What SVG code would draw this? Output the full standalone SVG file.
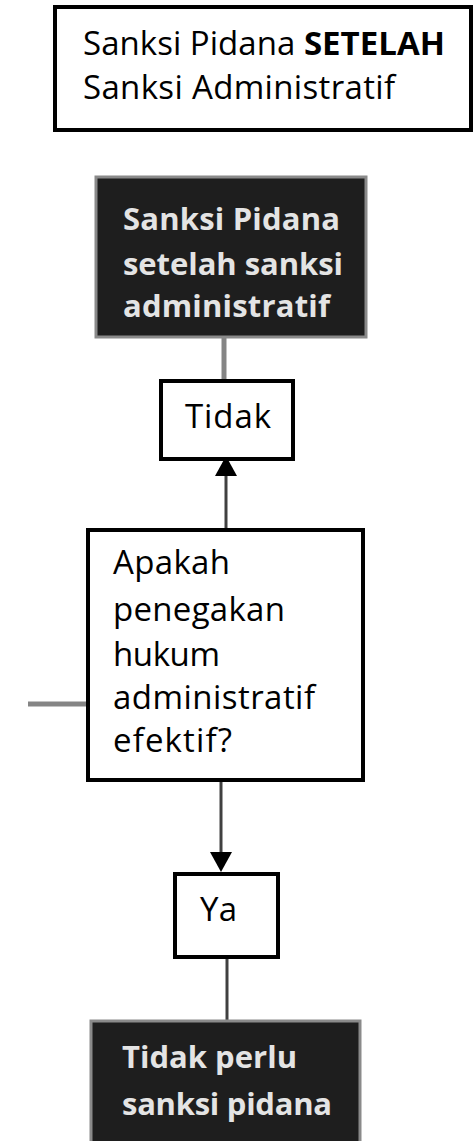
<svg xmlns="http://www.w3.org/2000/svg" width="475" height="1141" viewBox="0 0 475 1141">
<defs>
<style>
.box{fill:#fff;stroke:#000;stroke-width:4}
.dark{fill:#1e1e1e;stroke:#8a8a8a;stroke-width:3}
.t{font-family:"Open Sans","Liberation Sans",sans-serif;font-size:33px;fill:#000}
.w{font-family:"Open Sans","Liberation Sans",sans-serif;font-size:31px;font-weight:bold;fill:#e4e4e4}
.gl{stroke:#858585;stroke-width:5;fill:none}
.dl{stroke:#404040;stroke-width:3;fill:none}
</style>
</defs>
<rect width="475" height="1141" fill="#fff"/>
<g id="connectors">
<line class="gl" x1="224" y1="337" x2="224" y2="381"/>
<line class="dl" x1="226" y1="529" x2="226" y2="475"/>
<path d="M226,456 L215,476 L237,476 z" fill="#000"/>
<line class="gl" x1="28" y1="704" x2="89" y2="704"/>
<line class="dl" x1="221" y1="782" x2="221" y2="853"/>
<path d="M221,872 L210,852 L232,852 z" fill="#000"/>
<line class="dl" x1="227" y1="957" x2="227" y2="1021"/>
</g>
<g id="title">
<rect class="box" x="55" y="7" width="416" height="123" stroke-width="5"/>
<text class="t" x="83" y="55" textLength="362">Sanksi Pidana <tspan font-weight="bold">SETELAH</tspan></text>
<text class="t" x="83" y="99" textLength="312">Sanksi Administratif</text>
</g>
<g id="sanksi-pidana-setelah">
<rect class="dark" x="96" y="177" width="270" height="160"/>
<text class="w" x="123" y="230" textLength="217">Sanksi Pidana</text>
<text class="w" x="123" y="275" textLength="220">setelah sanksi</text>
<text class="w" x="123" y="317" textLength="207">administratif</text>
</g>
<g id="tidak">
<rect class="box" x="161" y="381" width="132" height="78"/>
<text class="t" x="185" y="428" textLength="86">Tidak</text>
</g>
<g id="question">
<rect class="box" x="88" y="530" width="275" height="250"/>
<text class="t" x="113" y="574" textLength="117">Apakah</text>
<text class="t" x="113" y="621" textLength="172">penegakan</text>
<text class="t" x="113" y="666" textLength="107">hukum</text>
<text class="t" x="113" y="709" textLength="202">administratif</text>
<text class="t" x="113" y="752" textLength="119">efektif?</text>
</g>
<g id="ya">
<rect class="box" x="175" y="874" width="103" height="83"/>
<text class="t" x="200" y="921" textLength="37">Ya</text>
</g>
<g id="tidak-perlu">
<rect class="dark" x="91" y="1021" width="269" height="140"/>
<text class="w" x="122" y="1068" textLength="175">Tidak perlu</text>
<text class="w" x="122" y="1115" textLength="210">sanksi pidana</text>
</g>
</svg>
